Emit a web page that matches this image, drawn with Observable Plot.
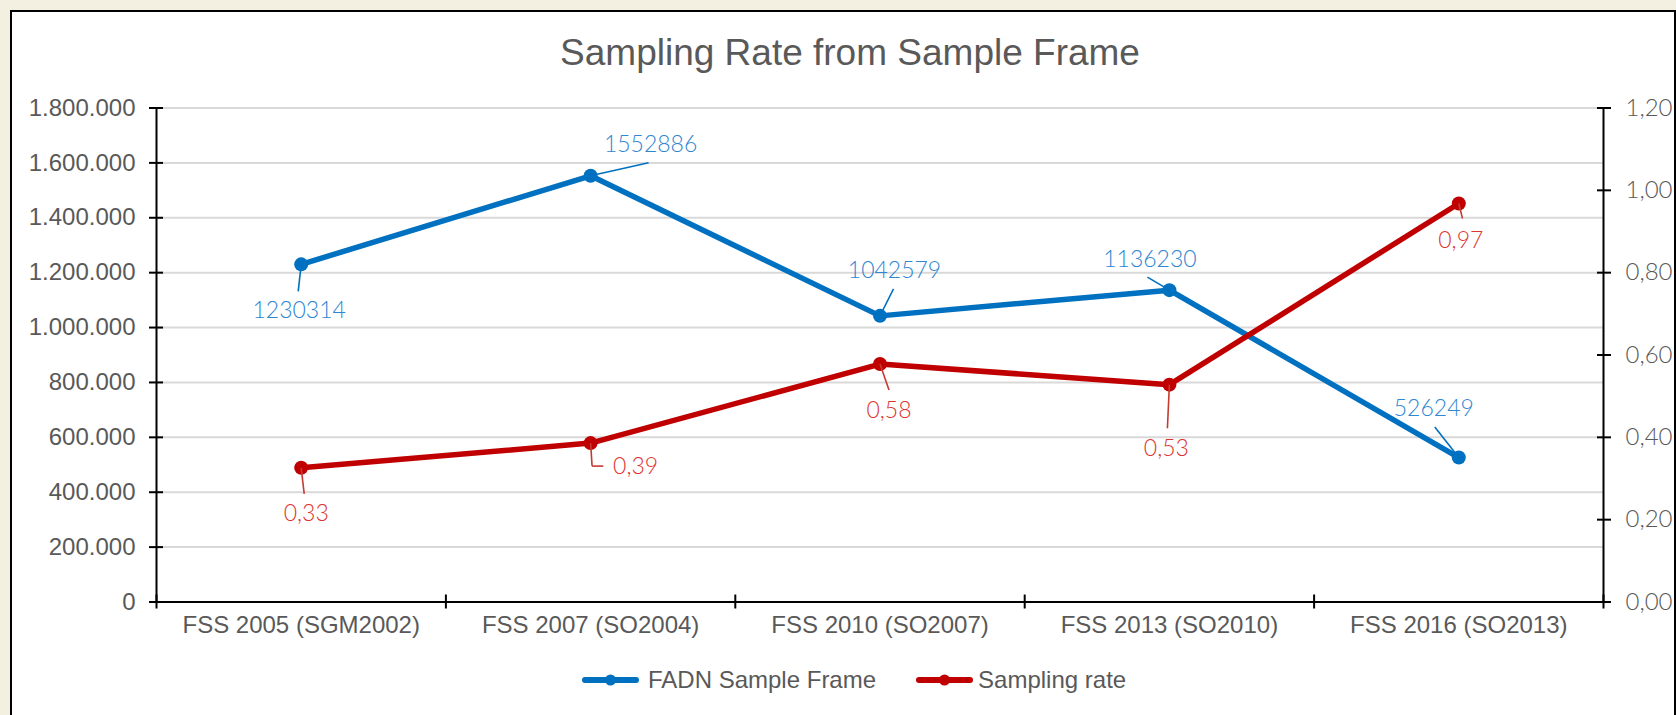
<!DOCTYPE html>
<html><head><meta charset="utf-8">
<script src="https://cdn.jsdelivr.net/npm/d3@7"></script>
<script src="https://cdn.jsdelivr.net/npm/@observablehq/plot@0.6"></script>
<style>
html,body{margin:0;padding:0;}
body{width:1676px;height:715px;overflow:hidden;background:#F3F0E1;position:relative;font-family:"Liberation Sans",Arial,sans-serif;}
#frame{position:absolute;left:10px;top:10px;width:1662px;height:760px;background:#fff;border:2px solid #000;}
#title{position:absolute;left:850px;top:34px;transform:translateX(-50%);font-size:37px;line-height:37px;color:#595959;white-space:nowrap;}
#chart{position:absolute;left:0;top:80px;}
#legend{position:absolute;left:582px;top:666px;height:28px;display:flex;align-items:center;font-size:24px;color:#595959;white-space:nowrap;}
.item{display:flex;align-items:center;}
</style></head><body>
<div id="frame"></div>
<div id="title">Sampling Rate from Sample Frame</div>
<div id="chart"></div>
<div id="legend"></div>
<script>
// ---- data ----
const categories = ["FSS 2005 (SGM2002)", "FSS 2007 (SO2004)", "FSS 2010 (SO2007)", "FSS 2013 (SO2010)", "FSS 2016 (SO2013)"];
const sampleFrame = [1230314, 1552886, 1042579, 1136230, 526249];
const samplingRate = [0.326, 0.386, 0.578, 0.528, 0.968];
const seriesNames = ["FADN Sample Frame", "Sampling rate"];
const frameTicks = [0, 200000, 400000, 600000, 800000, 1000000, 1200000, 1400000, 1600000, 1800000];
const rateTicks = [0, 0.2, 0.4, 0.6, 0.8, 1.0, 1.2];

// ---- style / placement ----
const BLUE = "#0070C0", RED = "#C00000";
const BLUE_LABEL = "#2F86D1", RED_LABEL = "#DC3530", RED_LEADER = "#C43B32";
const GREY = "#595959";
const AXIS_FONT = "Liberation Sans, Arial, sans-serif";
const LABEL_FONT = "Lato, 'Open Sans', sans-serif";
const rateToFrame = frameTicks[frameTicks.length - 1] / rateTicks[rateTicks.length - 1];

// label offsets in pixels from the data point (manual placement as in the original)
const blueLabelOffsets = [[-2, 46], [60, -31], [14.5, -45], [-19.5, -31], [-25, -49]];
const blueLeaders = [[[0, 0], [-3, 27]], [[0, 0], [58, -13]], [[0, 0], [13.5, -27]], [[0, 0], [-22, -13]], [[0, 0], [-24, -30.5]]];
const redLabelOffsets = [[5, 46], [45, 24], [9, 46.5], [-3, 64], [2, 37]];
const redLeaders = [[[0, 0], [3, 26]], [[0, 0], [1.5, 23], [12.7, 23]], [[0, 0], [9, 26]], [[0, 0], [-2, 43.6]], [[0, 0], [3.7, 15]]];

const idx = categories.map((_, i) => i);
const xc = i => i + 0.5;
const yBlue = i => sampleFrame[i];
const yRed = i => samplingRate[i] * rateToFrame;
const fmtFrame = d => d3.format(",")(d).replace(/,/g, ".");
const fmtRate = v => v.toFixed(2).replace(".", ",");

function leaderMarks(leaders, yOf, color) {
  const out = [];
  leaders.forEach((pts, i) => {
    for (let k = 0; k < pts.length - 1; k++) {
      const [ax, ay] = pts[k], [bx, by] = pts[k + 1];
      out.push(Plot.vector([i], {
        x: xc, y: yOf, dx: ax, dy: ay,
        length: Math.hypot(bx - ax, by - ay),
        rotate: Math.atan2(bx - ax, -(by - ay)) * 180 / Math.PI,
        anchor: "start", r: 0, stroke: color, strokeWidth: 1.6, strokeLinecap: "butt"
      }));
    }
  });
  return out;
}
function labelMarks(offsets, yOf, textOf, color) {
  return offsets.map(([dx, dy], i) => Plot.text([i], {
    x: xc, y: yOf, text: textOf, dx, dy, fill: color,
    fontSize: 23, fontFamily: LABEL_FONT, fontWeight: 300, textAnchor: "middle", lineAnchor: "middle"
  }));
}

const chart = Plot.plot({
  width: 1676, height: 570,
  marginLeft: 156, marginRight: 73, marginTop: 27.5, marginBottom: 48.5,
  style: {background: "transparent", overflow: "visible"},
  x: {domain: [0, categories.length], axis: null},
  y: {domain: [0, frameTicks[frameTicks.length - 1]], axis: null},
  marks: [
    Plot.gridY(frameTicks, {stroke: "#D9D9D9", strokeOpacity: 1, strokeWidth: 2}),
    // axis lines
    Plot.ruleX([0, categories.length], {stroke: "#000", strokeWidth: 2}),
    Plot.ruleY([0], {stroke: "#000", strokeWidth: 2}),
    // cross tick marks
    Plot.axisY(frameTicks, {anchor: "left", tickSize: 14, dx: 7, stroke: "#000", strokeWidth: 2, fill: "none", tickFormat: () => ""}),
    Plot.axisY(rateTicks.map(r => r * rateToFrame), {anchor: "right", tickSize: 14, dx: -7, stroke: "#000", strokeWidth: 2, fill: "none", tickFormat: () => ""}),
    Plot.axisX(d3.range(categories.length + 1), {anchor: "bottom", tickSize: 14, dy: -7, stroke: "#000", strokeWidth: 2, fill: "none", tickFormat: () => ""}),
    // tick labels
    Plot.axisY(frameTicks, {anchor: "left", tickSize: 0, tickPadding: 21, tickFormat: fmtFrame, fill: GREY, fontSize: 24, fontFamily: AXIS_FONT}),
    Plot.axisY(rateTicks.map(r => r * rateToFrame), {anchor: "right", tickSize: 0, tickPadding: 22, tickFormat: d => fmtRate(d / rateToFrame), fill: GREY, fontSize: 24, fontFamily: LABEL_FONT, fontWeight: 300}),
    Plot.axisX(idx.map(xc), {anchor: "bottom", tickSize: 0, tickPadding: 14, tickFormat: d => categories[Math.floor(d)], fill: GREY, fontSize: 24, fontFamily: AXIS_FONT}),
    // series
    Plot.line(idx, {x: xc, y: yBlue, stroke: BLUE, strokeWidth: 5.5, strokeLinejoin: "round"}),
    Plot.dot(idx, {x: xc, y: yBlue, r: 7, fill: BLUE}),
    Plot.line(idx, {x: xc, y: yRed, stroke: RED, strokeWidth: 5.5, strokeLinejoin: "round"}),
    Plot.dot(idx, {x: xc, y: yRed, r: 7, fill: RED}),
    // leaders + data labels
    ...leaderMarks(blueLeaders, yBlue, BLUE),
    ...leaderMarks(redLeaders, yRed, RED_LEADER),
    ...labelMarks(blueLabelOffsets, yBlue, i => String(sampleFrame[i]), BLUE_LABEL),
    ...labelMarks(redLabelOffsets, yRed, i => fmtRate(samplingRate[i]), RED_LABEL)
  ]
});
document.getElementById("chart").append(chart);

// legend
const legend = document.getElementById("legend");
[[seriesNames[0], BLUE, 9, 0], [seriesNames[1], RED, 5, 40]].forEach(([name, color, gap, ml]) => {
  const item = document.createElement("div");
  item.className = "item";
  item.style.marginLeft = ml + "px";
  item.innerHTML = `<svg width="57" height="14" style="margin-right:${gap}px"><line x1="3" x2="54" y1="7" y2="7" stroke="${color}" stroke-width="6" stroke-linecap="round"/><circle cx="28.5" cy="7" r="5.5" fill="${color}"/></svg><span>${name}</span>`;
  legend.append(item);
});
</script></body></html>
